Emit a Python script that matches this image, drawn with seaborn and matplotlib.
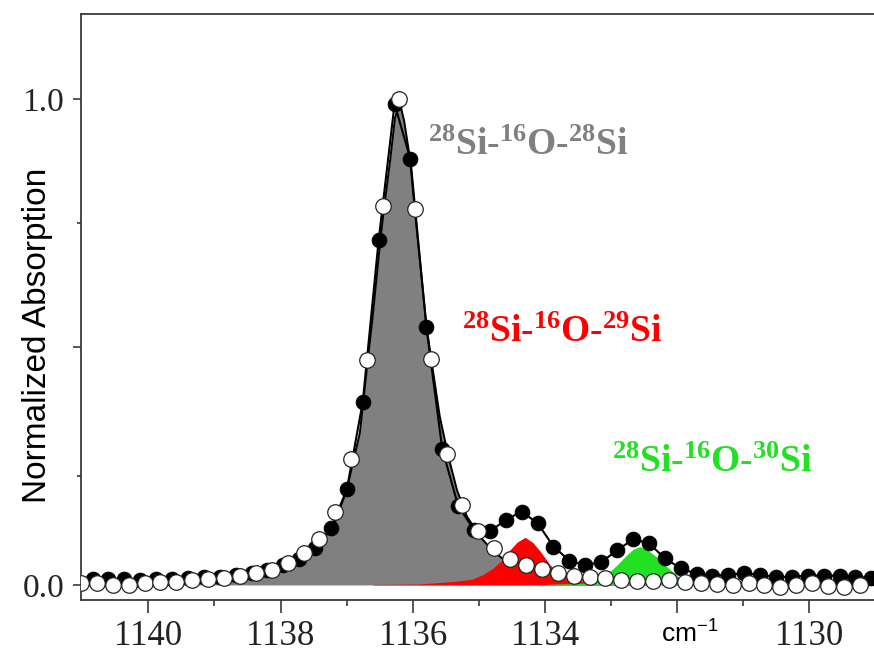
import numpy as np
import pandas as pd
import matplotlib
matplotlib.use("Agg")
import matplotlib.pyplot as plt
import seaborn as sns

# ---------------- data ----------------
# sampling grid of the two measured spectra (cm^-1)
open_start = 1136.21
black_start = 1136.275
grid_step = 0.2405
open_idx = np.arange(-20, 30)
black_idx = np.arange(-19, 31)

open_y = [0.004, 0.004, 0.000, 0.000, 0.004, 0.007, 0.007, 0.010, 0.012, 0.014,
          0.019, 0.024, 0.031, 0.045, 0.065, 0.094, 0.150, 0.259, 0.463, 0.780,
          1.000, 0.773, 0.464, 0.270, 0.165, 0.110, 0.075, 0.053, 0.041, 0.033,
          0.025, 0.019, 0.016, 0.014, 0.010, 0.009, 0.009, 0.010, 0.007, 0.004,
          0.002, 0.000, 0.004, 0.000, -0.005, 0.000, 0.004, -0.003, -0.005, 0.000]

black_y = [0.013, 0.012, 0.012, 0.011, 0.012, 0.012, 0.014, 0.016, 0.017, 0.021,
           0.025, 0.031, 0.041, 0.053, 0.076, 0.117, 0.197, 0.377, 0.710, 0.990,
           0.876, 0.531, 0.280, 0.163, 0.113, 0.110, 0.134, 0.151, 0.127, 0.079,
           0.050, 0.041, 0.047, 0.071, 0.094, 0.086, 0.055, 0.034, 0.023, 0.019,
           0.021, 0.024, 0.021, 0.016, 0.017, 0.019, 0.019, 0.019, 0.017, 0.014]

# fitted component 28Si-16O-28Si (grey)
gray_x = [1141.0, 1140.0, 1139.5, 1139.0, 1138.72, 1138.46, 1138.21, 1137.96, 1137.70,
          1137.45, 1137.20, 1137.00, 1136.80, 1136.68, 1136.60, 1136.49, 1136.43, 1136.34,
          1136.27, 1136.20, 1136.13, 1136.04, 1135.97, 1135.79, 1135.72, 1135.66, 1135.59,
          1135.46, 1135.33, 1135.18, 1134.98, 1134.78, 1134.60, 1134.30, 1134.00, 1133.50,
          1133.00, 1132.00, 1131.00, 1129.00]
gray_y = [0.002, 0.004, 0.005, 0.006, 0.010, 0.014, 0.023, 0.038, 0.055,
          0.079, 0.120, 0.195, 0.313, 0.463, 0.560, 0.710, 0.780, 0.876,
          0.960, 0.995, 0.955, 0.876, 0.773, 0.531, 0.464, 0.410, 0.346,
          0.264, 0.195, 0.141, 0.099, 0.069, 0.050, 0.035, 0.025, 0.016,
          0.011, 0.006, 0.004, 0.002]

# fitted component 28Si-16O-29Si (red)
red_x = [1136.60, 1135.89, 1135.39, 1135.10, 1134.94, 1134.78, 1134.65, 1134.55, 1134.42,
         1134.30, 1134.18, 1134.07, 1133.92, 1133.77, 1133.60, 1133.47, 1133.20, 1132.80,
         1132.50]
red_y = [0.001, 0.002, 0.007, 0.012, 0.021, 0.035, 0.051, 0.069, 0.088,
         0.098, 0.087, 0.069, 0.041, 0.021, 0.012, 0.008, 0.004, 0.002,
         0.000]

# fitted component 28Si-16O-30Si (green)
green_x = [1134.20, 1133.80, 1133.50, 1133.22, 1133.07, 1132.91, 1132.76, 1132.66, 1132.56,
           1132.45, 1132.31, 1132.16, 1132.01, 1131.91, 1131.60, 1131.20, 1130.80]
green_y = [0.000, 0.002, 0.003, 0.007, 0.021, 0.041, 0.062, 0.074, 0.079,
           0.072, 0.058, 0.038, 0.021, 0.007, 0.003, 0.001, 0.000]

x_ticks = [1140, 1138, 1136, 1134, 1132, 1130]
x_ticklabels = ["1140", "1138", "1136", "1134", "", "1130"]
x_minor = [1139, 1137, 1135, 1133, 1131]
y_ticks = [0.0, 0.49, 1.0]
y_ticklabels = ["0.0", "", "1.0"]
y_minor = [0.225, 0.745]

labels = [r"$^{28}$Si-$^{16}$O-$^{28}$Si",
          r"$^{28}$Si-$^{16}$O-$^{29}$Si",
          r"$^{28}$Si-$^{16}$O-$^{30}$Si"]
label_pos = [(1135.77, 0.885), (1135.25, 0.50), (1132.98, 0.232)]
label_colors = ["#808080", "#ff0000", "#22e022"]

# ---------------- build frames ----------------
df_open = pd.DataFrame({"x": open_start - grid_step * open_idx, "y": open_y})
df_black = pd.DataFrame({"x": black_start - grid_step * black_idx, "y": black_y})
df_gray = pd.DataFrame({"x": gray_x, "y": gray_y})
df_red = pd.DataFrame({"x": red_x, "y": red_y})
df_green = pd.DataFrame({"x": green_x, "y": green_y})

sns.set_theme(style="ticks")
plt.rcParams["mathtext.default"] = "regular"

W, H = 874, 656
fig = plt.figure(figsize=(W / 100, H / 100), dpi=100)
ax = fig.add_axes([81 / W, 56 / H, 793 / W, 586 / H])

# component fills
ax.fill_between(df_gray["x"], 0, df_gray["y"], color="#808080", lw=0, zorder=1)
sns.lineplot(data=df_gray, x="x", y="y", ax=ax, color="black", lw=1.4,
             sort=False, estimator=None, zorder=2)
ax.fill_between(df_red["x"], 0, df_red["y"], color="#ff0000", lw=0, zorder=3)
ax.fill_between(df_green["x"], 0, df_green["y"], color="#22e022", lw=0, zorder=3)

# measured spectra
sns.lineplot(data=df_black, x="x", y="y", ax=ax, color="black", lw=1.5,
             marker="o", markersize=10.5, markeredgecolor="black",
             markerfacecolor="black", sort=False, estimator=None, zorder=4)
sns.scatterplot(data=df_open, x="x", y="y", ax=ax, s=125, color="white",
                edgecolor="#222222", linewidth=0.9, zorder=5, clip_on=True)

for txt, (lx, ly), col in zip(labels, label_pos, label_colors):
    ax.text(lx, ly, txt, color=col, fontsize=27, fontweight="bold",
            family="Liberation Serif", ha="left", va="baseline", zorder=6)

ax.set_xlim(1141.02, 1129.02)
ax.set_ylim(-0.031, 1.175)

ax.set_xticks(x_ticks)
ax.set_xticklabels(x_ticklabels)
ax.set_xticks(x_minor, minor=True)
ax.set_yticks(y_ticks)
ax.set_yticklabels(y_ticklabels)
ax.set_yticks(y_minor, minor=True)

spine_col = "#3a3a3a"
for s in ["left", "bottom", "top"]:
    ax.spines[s].set_color(spine_col)
    ax.spines[s].set_linewidth(1.3)
ax.spines["right"].set_visible(False)

ax.tick_params(axis="x", which="major", direction="out", length=9, width=1.2,
               color=spine_col, pad=5.5, labelsize=25, top=False)
ax.tick_params(axis="x", which="minor", direction="out", length=4.5, width=1.2,
               color=spine_col, top=False)
ax.tick_params(axis="y", which="major", direction="out", length=6, width=1.2,
               color=spine_col, pad=6, labelsize=24, right=False)
ax.tick_params(axis="y", which="minor", direction="out", length=3, width=1.2,
               color=spine_col, right=False)
for lab in ax.get_xticklabels() + ax.get_yticklabels():
    lab.set_family("Liberation Serif")
    lab.set_color("#222222")

ax.set_xlabel("")
ax.set_ylabel("")
fig.text(38 / W, 1 - 335 / H, "Normalized Absorption", rotation=90,
         fontsize=24, family="Liberation Sans", ha="center", va="center",
         color="black")
fig.text(690 / W, 1 - 634 / H, r"cm$^{-1}$", fontsize=19,
         family="Liberation Sans", ha="center", va="center", color="black")

fig.savefig("out.png", dpi=100)
